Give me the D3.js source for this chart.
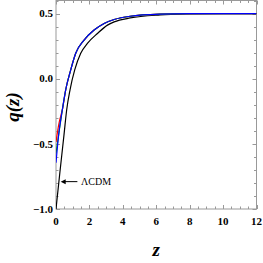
<!DOCTYPE html>
<html>
<head>
<meta charset="utf-8">
<script src="https://cdn.jsdelivr.net/npm/d3@7"></script>
<style>
  html, body { margin: 0; padding: 0; background: #fff; }
  svg { display: block; }
</style>
</head>
<body>
<svg id="chart" width="263" height="263"></svg>
<script>
// Data
const xTicks = [0, 2, 4, 6, 8, 10, 12];
const yTicks = [-1.0, -0.5, 0.0, 0.5];

// LCDM (black)
const lcdmZ = [0, 0.24, 0.48, 0.64, 0.84, 1.12, 1.48, 1.88, 2.48, 3.08, 3.48, 4.44, 6.24, 8, 10, 12];
const lcdmQ = [-1, -0.71, -0.429, -0.238, -0.085, 0.067, 0.195, 0.271, 0.347, 0.411, 0.436, 0.466, 0.489, 0.497, 0.5, 0.5];

// red model
const redZ = [0, 0.1, 0.2, 0.3, 0.38, 0.58, 0.88, 1.18, 1.68, 2.28, 2.88, 3.48, 4.44, 6.24, 8, 10, 12];
const redQ = [-0.486, -0.40, -0.33, -0.28, -0.238, -0.085, 0.067, 0.195, 0.296, 0.373, 0.424, 0.454, 0.479, 0.495, 0.499, 0.5, 0.5];

// green model
const greenZ = [0, 0.08, 0.16, 0.38, 0.58, 0.88, 1.18, 1.68, 2.28, 2.88, 3.48, 4.44, 6.24, 8, 10, 12];
const greenQ = [-0.575, -0.50, -0.429, -0.238, -0.085, 0.067, 0.195, 0.296, 0.373, 0.424, 0.454, 0.479, 0.495, 0.499, 0.5, 0.5];

// blue model
const blueZ = [0, 0.16, 0.38, 0.58, 0.88, 1.18, 1.68, 2.28, 2.88, 3.48, 4.44, 6.24, 8, 10, 12];
const blueQ = [-0.645, -0.429, -0.238, -0.085, 0.067, 0.195, 0.296, 0.373, 0.424, 0.454, 0.479, 0.495, 0.499, 0.5, 0.5];

const series = [
  { z: lcdmZ, q: lcdmQ, color: '#000000' },
  { z: redZ, q: redQ, color: '#ff0000' },
  { z: greenZ, q: greenQ, color: '#00a000' },
  { z: blueZ, q: blueQ, color: '#0000ff' }
];

// Layout
const pLeft = 56, pRight = 256.5, pTop = 0.5, pBottom = 209;
const svg = d3.select('#chart');

const x = d3.scaleLinear().domain([0, 12]).range([pLeft, pRight]);
const y = d3.scaleLinear().domain([-1, 0.6]).range([pBottom, pTop]);

const frameColor = '#999';
const labelFont = '"Liberation Serif", "Times New Roman", serif';

// frame
svg.append('rect')
  .attr('x', pLeft).attr('y', pTop)
  .attr('width', pRight - pLeft).attr('height', pBottom - pTop)
  .attr('fill', 'none').attr('stroke', frameColor).attr('stroke-width', 1);

// minor ticks
const xMinor = d3.range(0, 12.01, 0.5).filter(v => xTicks.indexOf(v) < 0);
const yMinor = d3.range(-1, 0.61, 0.1).map(v => Math.round(v * 10) / 10).filter(v => yTicks.indexOf(v) < 0);

const axisG = svg.append('g').attr('stroke', frameColor).attr('stroke-width', 1);

function xTickMarks(vals, len) {
  vals.forEach(v => {
    const px = Math.round(x(v)) + 0.5;
    axisG.append('line').attr('x1', px).attr('x2', px).attr('y1', pBottom).attr('y2', pBottom - len);
    axisG.append('line').attr('x1', px).attr('x2', px).attr('y1', pTop).attr('y2', pTop + len);
  });
}
function yTickMarks(vals, len) {
  vals.forEach(v => {
    const py = Math.round(y(v)) + 0.5;
    axisG.append('line').attr('x1', pLeft).attr('x2', pLeft + len).attr('y1', py).attr('y2', py);
    axisG.append('line').attr('x1', pRight).attr('x2', pRight - len).attr('y1', py).attr('y2', py);
  });
}
xTickMarks(xTicks, 4);
xTickMarks(xMinor, 2.5);
yTickMarks(yTicks, 4);
yTickMarks(yMinor, 2.5);

// tick labels
svg.append('g').selectAll('text')
  .data(xTicks)
  .enter().append('text')
  .attr('x', d => x(d))
  .attr('y', 224.5)
  .attr('text-anchor', 'middle')
  .style('font-family', labelFont)
  .style('font-weight', 'bold')
  .style('font-size', '11px')
  .text(d => d);

svg.append('g').selectAll('text')
  .data(yTicks)
  .enter().append('text')
  .attr('x', 53)
  .attr('y', d => y(d) + 3.8)
  .attr('text-anchor', 'end')
  .style('font-family', labelFont)
  .style('font-weight', 'bold')
  .style('font-size', '11px')
  .text(d => (d < 0 ? '\u2212' : '') + Math.abs(d).toFixed(1));

// curves
const line = d3.line()
  .x(d => x(d[0]))
  .y(d => y(d[1]))
  .curve(d3.curveMonotoneX);

svg.append('defs').append('clipPath').attr('id', 'clip')
  .append('rect').attr('x', pLeft).attr('y', pTop).attr('width', pRight - pLeft).attr('height', pBottom - pTop);

const plot = svg.append('g').attr('clip-path', 'url(#clip)');
series.forEach(s => {
  plot.append('path')
    .datum(d3.zip(s.z, s.q))
    .attr('d', line)
    .attr('fill', 'none')
    .attr('stroke', s.color)
    .attr('stroke-width', 1.2);
});

// LCDM annotation
const arrowY = y(-0.79);
svg.append('line')
  .attr('x1', x(1.28)).attr('x2', x(0.28) + 4)
  .attr('y1', arrowY).attr('y2', arrowY)
  .attr('stroke', '#000').attr('stroke-width', 1);
svg.append('path')
  .attr('d', `M${x(0.28)},${arrowY} l5,-2.5 l0,5 z`)
  .attr('fill', '#000');
svg.append('text')
  .attr('x', x(1.5))
  .attr('y', arrowY + 3.5)
  .style('font-family', labelFont)
  .style('font-size', '10px')
  .text('\u039BCDM');

// axis titles
svg.append('text')
  .attr('x', (pLeft + pRight) / 2)
  .attr('y', 256)
  .attr('text-anchor', 'middle')
  .style('font-family', labelFont)
  .style('font-weight', 'bold')
  .style('font-style', 'italic')
  .style('font-size', '19px')
  .text('z');

svg.append('text')
  .attr('transform', 'translate(19,107) rotate(-90)')
  .attr('text-anchor', 'middle')
  .style('font-family', labelFont)
  .style('font-weight', 'bold')
  .style('font-style', 'italic')
  .style('font-size', '19px')
  .text('q(z)');
</script>
</body>
</html>
